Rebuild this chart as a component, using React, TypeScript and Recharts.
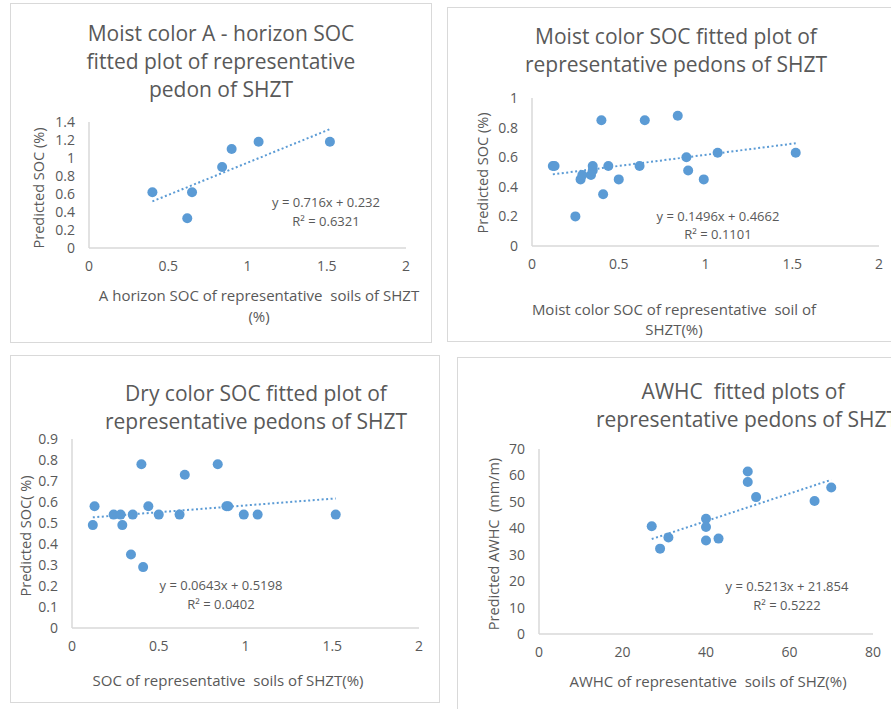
import { ScatterChart, Scatter, XAxis, YAxis } from 'recharts';

// values
const horizonX = [0.4, 0.62, 0.65, 0.84, 0.9, 1.07, 1.52];
const horizonY = [0.62, 0.33, 0.62, 0.9, 1.1, 1.18, 1.18];
const horizonTrendX = [0.4, 1.52];
const horizonTrendY = [0.518, 1.32];

const moistX = [0.12, 0.13, 0.25, 0.28, 0.29, 0.34, 0.35, 0.35, 0.4, 0.41, 0.44, 0.5, 0.62, 0.65, 0.84, 0.89, 0.9, 0.99, 1.07, 1.52];
const moistY = [0.54, 0.54, 0.2, 0.45, 0.48, 0.48, 0.51, 0.54, 0.85, 0.35, 0.54, 0.45, 0.54, 0.85, 0.88, 0.6, 0.51, 0.45, 0.63, 0.63];
const moistTrendX = [0.12, 1.52];
const moistTrendY = [0.484, 0.694];

const dryX = [0.12, 0.13, 0.24, 0.28, 0.29, 0.34, 0.35, 0.4, 0.41, 0.44, 0.5, 0.62, 0.65, 0.84, 0.89, 0.9, 0.99, 1.07, 1.52];
const dryY = [0.49, 0.58, 0.54, 0.54, 0.49, 0.35, 0.54, 0.78, 0.29, 0.58, 0.54, 0.54, 0.73, 0.78, 0.58, 0.58, 0.54, 0.54, 0.54];
const dryTrendX = [0.12, 1.52];
const dryTrendY = [0.527, 0.617];

const awhcX = [27, 29, 31, 40, 40, 40, 43, 50, 50, 52, 66, 70];
const awhcY = [40.8, 32.3, 36.5, 43.6, 40.5, 35.4, 36.1, 61.5, 57.5, 51.8, 50.3, 55.4];
const awhcTrendX = [27, 70];
const awhcTrendY = [35.93, 58.35];

const socXTicks = [0, 0.5, 1, 1.5, 2];
const awhcXTicks = [0, 20, 40, 60, 80];
const horizonYTicks = [0, 0.2, 0.4, 0.6, 0.8, 1, 1.2, 1.4];
const moistYTicks = [0, 0.2, 0.4, 0.6, 0.8, 1];
const dryYTicks = [0, 0.1, 0.2, 0.3, 0.4, 0.5, 0.6, 0.7, 0.8, 0.9];
const awhcYTicks = [0, 10, 20, 30, 40, 50, 60, 70];

const BLUE = '#5b9bd5';
const TEXT = '#595959';
const FONT = '"Open Sans", Lato, sans-serif';

const pts = (xs: number[], ys: number[]) => xs.map((x, i) => ({ x, y: ys[i] }));

type Txt = { text: string; x: number; y: number; size: number; rotate?: boolean };

function Panel(props: {
  box: { left: number; top: number; width: number; height: number };
  margin: { top: number; right: number; left: number; bottom: number };
  points: { x: number; y: number }[];
  trend: { x: number; y: number }[];
  xTicks: number[];
  yTicks: number[];
  texts: Txt[];
}) {
  const { box, margin, points, trend, xTicks, yTicks, texts } = props;
  const tick = { fill: TEXT, fontSize: 14, fontFamily: FONT };
  return (
    <div
      style={{
        position: 'absolute',
        left: box.left,
        top: box.top,
        width: box.width,
        height: box.height,
        border: '1.5px solid #d9d9d9',
        boxSizing: 'border-box',
        background: '#fff',
        overflow: 'hidden',
      }}
    >
      <ScatterChart width={box.width - 3} height={box.height - 3} margin={margin}>
        <XAxis
          type="number"
          dataKey="x"
          domain={[xTicks[0], xTicks[xTicks.length - 1]]}
          ticks={xTicks}
          tick={tick}
          tickLine={false}
          axisLine={{ stroke: '#d9d9d9', strokeWidth: 1.5 }}
          tickMargin={7}
          height={30}
          interval={0}
        />
        <YAxis
          type="number"
          dataKey="y"
          domain={[yTicks[0], yTicks[yTicks.length - 1]]}
          ticks={yTicks}
          tick={tick}
          tickLine={false}
          axisLine={{ stroke: '#d9d9d9', strokeWidth: 1.5 }}
          tickMargin={8}
          width={40}
          interval={0}
        />
        <Scatter
          data={trend}
          isAnimationActive={false}
          line={{ stroke: BLUE, strokeWidth: 2, strokeDasharray: '2 2.5' }}
          shape={() => <g />}
        />
        <Scatter
          data={points}
          isAnimationActive={false}
          shape={(p: any) => <circle cx={p.cx} cy={p.cy} r={5} fill={BLUE} />}
        />
      </ScatterChart>
      {texts.map((t, i) => (
        <div
          key={i}
          style={{
            position: 'absolute',
            left: t.x - box.left,
            top: t.y - box.top,
            transform: `translate(-50%, -50%)${t.rotate ? ' rotate(-90deg)' : ''}`,
            whiteSpace: 'pre',
            fontFamily: FONT,
            fontSize: t.size,
            color: TEXT,
            lineHeight: 1,
          }}
        >
          {t.text}
        </div>
      ))}
    </div>
  );
}

export default function App() {
  return (
    <div
      style={{
        position: 'fixed',
        left: 0,
        top: 0,
        width: 891,
        height: 709,
        background: '#fff',
        overflow: 'hidden',
      }}
    >
      <Panel
        box={{ left: 10, top: 3, width: 422, height: 340 }}
        margin={{ top: 118, right: 24, left: 38, bottom: 63 }}
        points={pts(horizonX, horizonY)}
        trend={pts(horizonTrendX, horizonTrendY)}
        xTicks={socXTicks}
        yTicks={horizonYTicks}
        texts={[
          { text: 'Moist color A - horizon SOC', x: 220, y: 32, size: 21 },
          { text: 'fitted plot of representative', x: 220, y: 60, size: 21 },
          { text: 'pedon of SHZT', x: 220, y: 88, size: 21 },
          { text: 'y = 0.716x + 0.232', x: 325, y: 201, size: 13 },
          { text: 'R² = 0.6321', x: 325, y: 220, size: 13 },
          { text: 'Predicted SOC (%)', x: 38, y: 187, size: 14.5, rotate: true },
          { text: 'A horizon SOC of representative  soils of SHZT', x: 258, y: 294, size: 15 },
          { text: '(%)', x: 258, y: 315, size: 15 },
        ]}
      />
      <Panel
        box={{ left: 447, top: 7, width: 450, height: 335 }}
        margin={{ top: 90, right: 16, left: 44, bottom: 64 }}
        points={pts(moistX, moistY)}
        trend={pts(moistTrendX, moistTrendY)}
        xTicks={socXTicks}
        yTicks={moistYTicks}
        texts={[
          { text: 'Moist color SOC fitted plot of', x: 675, y: 35, size: 21 },
          { text: 'representative pedons of SHZT', x: 675, y: 63, size: 21 },
          { text: 'y = 0.1496x + 0.4662', x: 717, y: 215, size: 13 },
          { text: 'R² = 0.1101', x: 717, y: 233, size: 13 },
          { text: 'Predicted SOC (%)', x: 482, y: 172, size: 14.5, rotate: true },
          { text: 'Moist color SOC of representative  soil of', x: 673, y: 308, size: 15 },
          { text: 'SHZT(%)', x: 673, y: 328, size: 15 },
        ]}
      />
      <Panel
        box={{ left: 10, top: 355, width: 430, height: 348 }}
        margin={{ top: 83, right: 19, left: 21, bottom: 43 }}
        points={pts(dryX, dryY)}
        trend={pts(dryTrendX, dryTrendY)}
        xTicks={socXTicks}
        yTicks={dryYTicks}
        texts={[
          { text: 'Dry color SOC fitted plot of', x: 255, y: 392, size: 21 },
          { text: 'representative pedons of SHZT', x: 255, y: 420, size: 21 },
          { text: 'y = 0.0643x + 0.5198', x: 220, y: 584, size: 13 },
          { text: 'R² = 0.0402', x: 220, y: 603, size: 13 },
          { text: 'Predicted SOC( %)', x: 25, y: 535, size: 14.5, rotate: true },
          { text: 'SOC of representative  soils of SHZT(%)', x: 227, y: 679, size: 15 },
        ]}
      />
      <Panel
        box={{ left: 457, top: 357, width: 450, height: 370 }}
        margin={{ top: 91, right: 32, left: 41, bottom: 61 }}
        points={pts(awhcX, awhcY)}
        trend={pts(awhcTrendX, awhcTrendY)}
        xTicks={awhcXTicks}
        yTicks={awhcYTicks}
        texts={[
          { text: 'AWHC  fitted plots of', x: 742, y: 390, size: 21 },
          { text: 'representative pedons of SHZT', x: 746, y: 418, size: 21 },
          { text: 'y = 0.5213x + 21.854', x: 786, y: 585, size: 13 },
          { text: 'R² = 0.5222', x: 786, y: 604, size: 13 },
          { text: 'Predicted AWHC  (mm/m)', x: 493, y: 543, size: 14.5, rotate: true },
          { text: 'AWHC of representative  soils of SHZ(%)', x: 707, y: 680, size: 15 },
        ]}
      />
    </div>
  );
}
